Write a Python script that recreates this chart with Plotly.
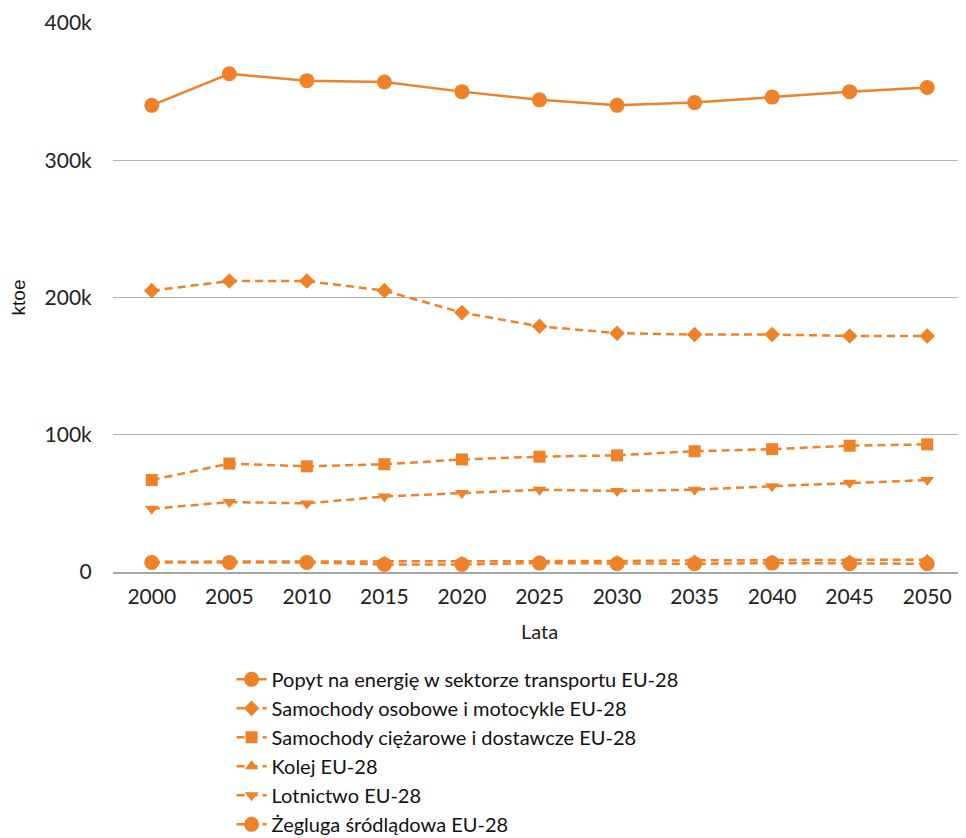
import plotly.graph_objects as go

# dane (ktoe)
lata = ["2000", "2005", "2010", "2015", "2020", "2025", "2030", "2035", "2040", "2045", "2050"]

popyt_transport = [340000, 363000, 358000, 357000, 350000, 344000, 340000, 342000, 346000, 350000, 353000]
samochody_osobowe = [205000, 212000, 212000, 205000, 189000, 179000, 174000, 173000, 173000, 172000, 172000]
samochody_ciezarowe = [67000, 79000, 77000, 78500, 82000, 84000, 85000, 88000, 89500, 92000, 93000]
kolej = [7500, 7500, 7500, 7500, 7500, 8000, 8000, 8500, 8500, 8500, 9000]
lotnictwo = [46000, 51000, 50000, 55000, 57500, 60000, 59000, 60000, 62500, 65000, 67000]
zegluga = [7000, 7000, 7000, 5500, 5500, 6500, 6000, 6000, 6500, 6000, 6000]

y_ticks = [0, 100000, 200000, 300000, 400000]
y_tick_labels = ["0", "100k", "200k", "300k", "400k"]

ORANGE = "#ef8129"
DASH = "8px,5px"

series = [
    ("Popyt na energię w sektorze transportu EU-28", popyt_transport, "circle", 15, "solid"),
    ("Samochody osobowe i motocykle EU-28", samochody_osobowe, "diamond", 12, DASH),
    ("Samochody ciężarowe i dostawcze EU-28", samochody_ciezarowe, "square", 12, DASH),
    ("Kolej EU-28", kolej, "triangle-up", 12, DASH),
    ("Lotnictwo EU-28", lotnictwo, "triangle-down", 12, DASH),
    ("Żegluga śródlądowa EU-28", zegluga, "circle", 15, DASH),
]

fig = go.Figure()
for name, values, symbol, size, dash in series:
    fig.add_trace(go.Scatter(
        x=lata,
        y=values,
        name=name,
        mode="lines+markers",
        line=dict(color=ORANGE, width=2.5, dash=dash),
        marker=dict(symbol=symbol, size=size, color=ORANGE),
    ))

# la page a une marge de 8px autour du graphique -> marges compensées
fig.update_layout(
    width=958,
    height=830,
    margin=dict(l=105, r=0, t=15, b=266, autoexpand=False),
    paper_bgcolor="white",
    plot_bgcolor="white",
    font=dict(family="Lato", size=21, color="#222222"),
    legend=dict(
        orientation="v",
        x=0.139,
        xanchor="left",
        y=-0.160,
        yanchor="top",
        font=dict(size=20, color="#111111"),
        tracegroupgap=0,
        itemwidth=30,
    ),
)
fig.update_xaxes(
    type="category",
    range=[-0.5, 10.5],
    title=dict(text="Lata", font=dict(size=20), standoff=18),
    showgrid=False,
    showline=True,
    linecolor="#a6a6a6",
    linewidth=1.5,
    ticks="outside",
    ticklen=5,
    tickcolor="rgba(0,0,0,0)",
)
fig.update_yaxes(
    range=[0, 400000],
    tickvals=y_ticks,
    ticktext=y_tick_labels,
    title=dict(text="ktoe", font=dict(family="Liberation Sans", size=19, color="#111111"), standoff=24),
    showgrid=True,
    gridcolor="#b3b3b3",
    gridwidth=1,
    zeroline=False,
    ticks="outside",
    ticklen=16,
    tickcolor="rgba(0,0,0,0)",
)

fig.write_html("out.html")
